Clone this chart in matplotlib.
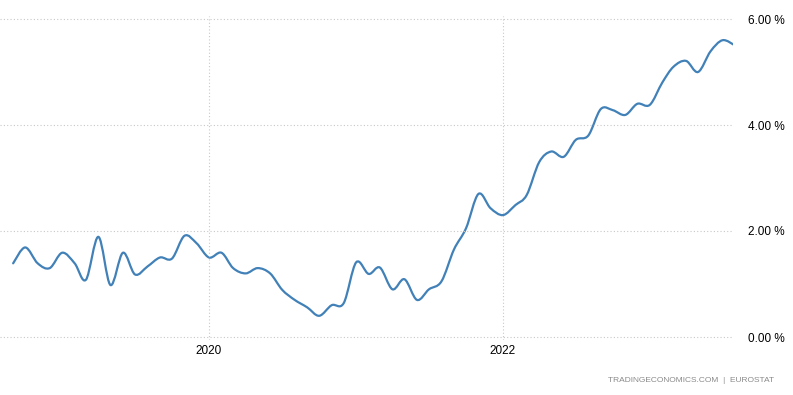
import numpy as np
import matplotlib
matplotlib.use('Agg')
import matplotlib.pyplot as plt
import matplotlib.dates as mdates
from matplotlib.path import Path
from matplotlib.patches import PathPatch
import datetime as dt

# monthly readings, Sep 2018 .. Aug 2023 (percent)
start_year, start_month = 2018, 9
values = [1.39, 1.69, 1.39, 1.30, 1.59, 1.39, 1.08, 1.89, 0.98, 1.59,
          1.18, 1.33, 1.50, 1.48, 1.91, 1.77, 1.50, 1.59, 1.30, 1.20,
          1.30, 1.20, 0.89, 0.70, 0.56, 0.40, 0.60, 0.64, 1.41, 1.19,
          1.31, 0.90, 1.09, 0.70, 0.90, 1.05, 1.65, 2.05, 2.70, 2.43,
          2.30, 2.49, 2.68, 3.30, 3.50, 3.40, 3.72, 3.80, 4.30, 4.28,
          4.19, 4.40, 4.38, 4.80, 5.10, 5.21, 5.00, 5.39, 5.60, 5.50]
yticks = [0, 2, 4, 6]
ytick_labels = ['0.00 %', '2.00 %', '4.00 %', '6.00 %']
xtick_years = [2020, 2022]
source = 'TRADINGECONOMICS.COM  |  EUROSTAT'

dates = []
for i in range(len(values)):
    m = start_month - 1 + i
    dates.append(dt.date(start_year + m // 12, m % 12 + 1, 1))
x = mdates.date2num(dates)
y = np.array(values)

fig = plt.figure(figsize=(7.93, 3.95), dpi=100)
W, H = 793, 395
# pixel frame: x 0..733, 0% at y=337, 6% at y=19 (padded a bit)
pad = 0.05
px_per_unit = (337 - 19) / 6.0
top_px = 19 - pad * px_per_unit
bot_px = 337 + pad * px_per_unit
ax = fig.add_axes([0, (H - bot_px) / H, 733 / W, (bot_px - top_px) / H])

# smooth curve (catmull-rom drawn as cubic beziers)
verts = [(x[0], y[0])]
codes = [Path.MOVETO]
n = len(x)
for i in range(n - 1):
    i0, i2, i3 = max(i - 1, 0), i + 1, min(i + 2, n - 1)
    c1 = (x[i] + (x[i2] - x[i0]) / 6, y[i] + (y[i2] - y[i0]) / 6)
    c2 = (x[i2] - (x[i3] - x[i]) / 6, y[i2] - (y[i3] - y[i]) / 6)
    verts += [c1, c2, (x[i2], y[i2])]
    codes += [Path.CURVE4] * 3
ax.add_patch(PathPatch(Path(verts, codes), fill=False, edgecolor='#4181b8',
                       linewidth=1.6, capstyle='round', joinstyle='round'))

d2020 = mdates.date2num(dt.date(2020, 1, 1))
d2022 = mdates.date2num(dt.date(2022, 1, 1))
days_per_px = (d2022 - d2020) / (503 - 209)
ax.set_xlim(d2020 - 209 * days_per_px, d2022 + 230 * days_per_px)
ax.set_ylim(-pad, 6 + pad)

ax.set_xticks([mdates.date2num(dt.date(yr, 1, 1)) for yr in xtick_years])
ax.set_xticklabels([str(yr) for yr in xtick_years])
ax.set_yticks(yticks)
ax.set_yticklabels(ytick_labels)
ax.yaxis.tick_right()
ax.tick_params(length=0, labelsize=8.5, colors='black', labelfontfamily='Liberation Sans')
ax.tick_params(axis='y', pad=11)
ax.tick_params(axis='x', pad=4)
ax.grid(True, color='#c8c8c8', linestyle=(0, (1, 2)), linewidth=0.8)
for s in ax.spines.values():
    s.set_visible(False)

fig.text(774 / W, 1 - 381 / H, source, ha='right', va='center', fontsize=6,
         color='#8a8a8a', family='Liberation Sans')

fig.savefig('out.png', dpi=100)
